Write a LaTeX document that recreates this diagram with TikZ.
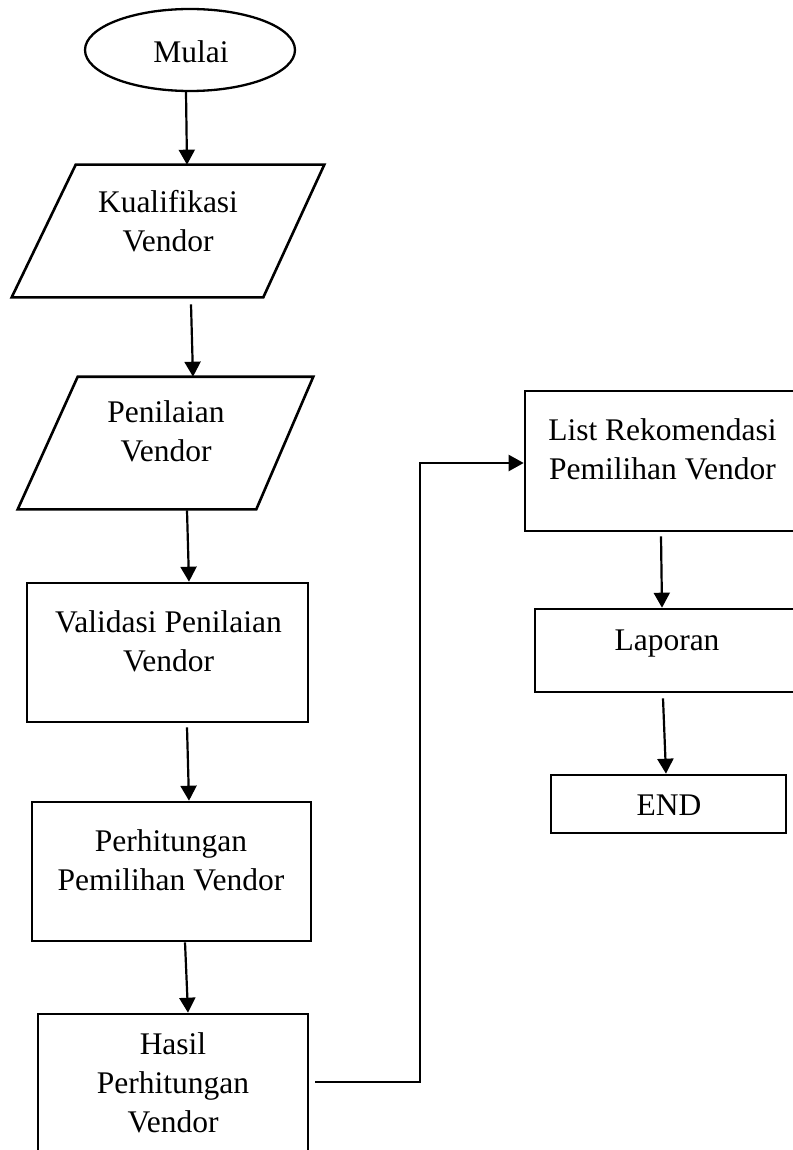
\documentclass[tikz,border=0pt]{standalone}
\usepackage{fontspec}
\setmainfont{Liberation Serif}
\usetikzlibrary{shapes.geometric,arrows.meta}
\begin{document}
\begin{tikzpicture}[x=1pt,y=-1pt,
  box/.style={draw,line width=2.6pt,rectangle,inner sep=0pt},
  paraframe/.style={rectangle,inner sep=0pt,outer sep=1.3pt,minimum height=130pt},
  paraline/.style={draw,line width=2.6pt,line join=miter},
  term/.style={draw,line width=2.3pt,ellipse,inner sep=0pt},
  txt/.style={font=\fontsize{31.5}{39}\selectfont,align=center,inner sep=0pt},
  flow/.style={line width=2.2pt,-{Triangle[length=15pt,width=16pt]}}]
\useasboundingbox (0,0) rectangle (792,1150);

% left column
\node[term,minimum width=210pt,minimum height=82pt] (mulai) at (190,50) {};
\node[txt,anchor=base] (mulai-t) at (191,63) {Mulai};

% input/output blocks: a frame node carries the anchors, the slanted outline is drawn from its corners
\node[paraframe,minimum width=310pt] (kual) at (168,231) {};
\draw[paraline] (kual.south west) -- ([xshift=64pt]kual.north west) -- (kual.north east) -- ([xshift=-61pt]kual.south east) -- cycle;
\node[txt] (kual-t) at (168,221) {Kualifikasi\\Vendor};

\node[paraframe,minimum width=293pt] (pen) at (165.5,443) {};
\draw[paraline] (pen.south west) -- ([xshift=60pt]pen.north west) -- (pen.north east) -- ([xshift=-57pt]pen.south east) -- cycle;
\node[txt] (pen-t) at (166,431) {Penilaian\\Vendor};

\node[box,minimum width=281pt,minimum height=139pt] (valid) at (167.5,652.5) {};
\node[txt] (valid-t) at (168.5,641) {Validasi Penilaian\\Vendor};

\node[box,minimum width=279pt,minimum height=139pt] (perh) at (171.5,871.5) {};
\node[txt] (perh-t) at (171,860.5) {Perhitungan\\Pemilihan Vendor};

\node[box,minimum width=270pt,minimum height=160pt] (hasil) at (173,1094) {};
\node[txt] (hasil-t) at (173,1083) {Hasil\\Perhitungan\\Vendor};

% right column
\node[box,minimum width=280pt,minimum height=140pt] (list) at (665,461) {};
\node[txt] (list-t) at (662.5,449.5) {List Rekomendasi\\Pemilihan Vendor};

\node[box,minimum width=270pt,minimum height=83pt] (lap) at (670,650.5) {};
\node[txt,anchor=base] (lap-t) at (667,650) {Laporan};

\node[box,minimum width=235pt,minimum height=58pt] (stop) at (668.5,804) {};
\node[txt,anchor=base] (stop-t) at (669,815) {END};

% connectors
\draw[flow] ([xshift=-4pt]mulai.south) -- ([xshift=-3pt]mulai.south |- kual.north);
\draw[flow] ([xshift=23pt,yshift=-7pt]kual.south) -- ([xshift=25pt]kual.south |- pen.north);
\draw[flow] ([xshift=21.5pt,yshift=-1pt]pen.south) -- ([xshift=23.5pt]pen.south |- valid.north);
\draw[flow] ([xshift=19.5pt,yshift=-4pt]valid.south) -- ([xshift=21.5pt]valid.south |- perh.north);
\draw[flow] ([xshift=13.5pt]perh.south) -- ([xshift=16.5pt]perh.south |- hasil.north);
\draw[flow] ([xshift=6pt,yshift=12pt]hasil.east) -| ([xshift=-104pt,yshift=-2pt]list.west) -- ([yshift=-2pt]list.west);
\draw[flow] ([xshift=-4pt,yshift=-4pt]list.south) -- ([xshift=-3pt]list.south |- lap.north);
\draw[flow] ([xshift=-7pt,yshift=-5pt]lap.south) -- ([xshift=-4pt]lap.south |- stop.north);
\end{tikzpicture}
\end{document}
